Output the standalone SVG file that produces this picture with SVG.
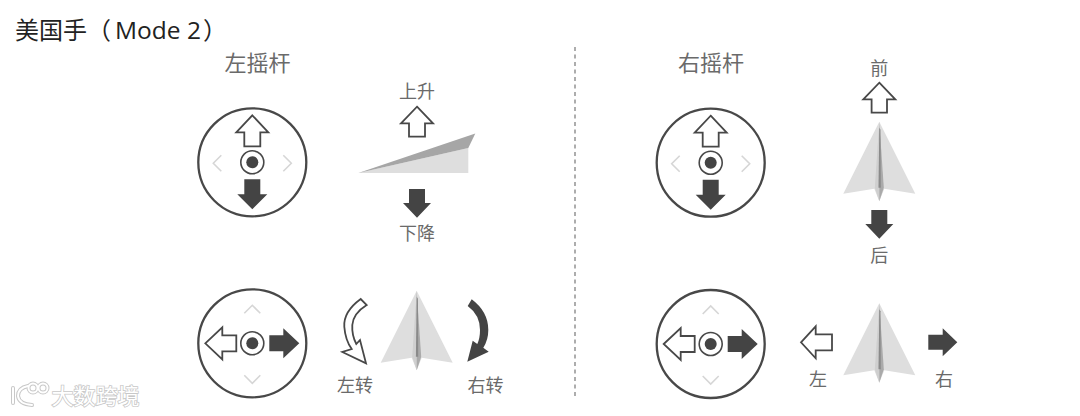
<svg xmlns="http://www.w3.org/2000/svg" xmlns:xlink="http://www.w3.org/1999/xlink" width="1080" height="416" viewBox="0 0 1080 416">
<style>
text{font-family:"Open Sans","Noto Sans CJK SC","Noto Sans",sans-serif;fill:#6a6a6a;text-anchor:middle}
.title{font-size:24px;fill:#222;text-anchor:start}
.h{font-size:22px}
.l{font-size:18px}
.ring{fill:#fff;stroke:#484848;stroke-width:2.3}
.inner{fill:none;stroke:#484848;stroke-width:1.6}
.dot{fill:#444}
.hollow{fill:#fff;stroke:#484848;stroke-width:1.8;stroke-linejoin:miter}
.solid{fill:#444}
.chev{fill:none;stroke:#d6d6d6;stroke-width:1.6}
.wm{font-size:22px;fill:#fff;stroke:#c8c8c8;stroke-width:1.6;paint-order:stroke}
.wml{fill:none;stroke:#c8c8c8;stroke-width:4;stroke-linecap:round}
.wmw{fill:none;stroke:#fff;stroke-width:2;stroke-linecap:round}
</style>
<defs>
<g id="hub">
<circle class="ring" r="54"/>
<circle class="inner" r="11.5"/>
<circle class="dot" r="6"/>
</g>
<g id="stickV">
<use xlink:href="#hub"/>
<path class="hollow" d="M0-47L16-30H8V-16H-8V-30H-16Z"/>
<path class="solid" d="M-8 17H8V32H15L0 47L-15 32H-8Z"/>
<path class="chev" d="M-31-7L-39 1L-31 9M31-7L39 1L31 9"/>
</g>
<g id="stickH">
<use xlink:href="#hub"/>
<path class="hollow" d="M-47 0L-30-16V-8H-16V8H-30V16Z"/>
<path class="solid" d="M17-8H31V-15L47 0L31 15V8H17Z"/>
<path class="chev" d="M-8-30L0-38L8-30M-8 32L0 40L8 32"/>
</g>
<g id="plane">
<path fill="#dedede" d="M0 0L36 72L5 67L0 79.5L-5 67L-36 72Z"/>
<path fill="#cfcfcf" d="M0 0L-4.500 66L0 79.5Z"/>
<path fill="#aaaaaa" d="M0 0L4.500 66L0 79.500Z"/>
<path fill="#8a8a8a" d="M0 6L1.200 8L1.500 66L-0.800 66Z"/>
</g>
</defs>
<g id="connectors">
<line x1="575" y1="47" x2="575" y2="398" stroke="#777" stroke-width="1.2" stroke-dasharray="4 3.500"/>
</g>
<g id="title"><text class="title" x="15" y="38.500">美国手<tspan x="87">（</tspan><tspan x="115" font-size="24.500">Mode 2</tspan><tspan x="203">）</tspan></text></g>
<g id="left-stick-head"><text class="h" x="257.500" y="71">左摇杆</text></g>
<g id="right-stick-head"><text class="h" x="711" y="71">右摇杆</text></g>
<g id="stick-left-throttle"><use xlink:href="#stickV" x="252.300" y="162.300"/></g>
<g id="stick-left-yaw"><use xlink:href="#stickH" x="252.300" y="343.300"/></g>
<g id="stick-right-pitch"><use xlink:href="#stickV" x="710.700" y="162.700"/></g>
<g id="stick-right-roll"><use xlink:href="#stickH" x="710.700" y="344"/></g>
<g id="throttle">
<text class="l" x="417" y="98">上升</text>
<path class="hollow" d="M417 106.700L433 123.300H425V136.700H409V123.300H401Z"/>
<path fill="#dedede" d="M358.300 173L468.300 148V173Z"/>
<path fill="#a6a6a6" d="M358.300 173L475.300 133.500L468.300 148Z"/>
<path class="solid" d="M409 189H425V203H431L417 217.700L403 203H409Z"/>
<text class="l" x="417" y="240">下降</text>
</g>
<g id="yaw">
<path class="hollow" d="M360.700 299Q343.300 311.700 344.300 326.700Q345.300 340 351.700 349L342.300 352L366 363.300L360 340L356.300 344Q351.700 335 352.300 325Q353.300 313.300 366.700 305Z"/>
<use xlink:href="#plane" x="416.700" y="290.700"/>
<path class="solid" d="M471.700 299.300Q488.300 311.700 488.300 330Q488.300 340 483.300 347.700L488.700 351.700L467.300 361.700L472.700 340.700L477.300 344Q480 338.300 480 330Q480 315 467.700 306Z"/>
<text class="l" x="355" y="392">左转</text>
<text class="l" x="485.500" y="392">右转</text>
</g>
<g id="pitch">
<text class="l" x="879.300" y="75">前</text>
<path class="hollow" d="M879.300 82.700L895.300 99.300H887V112.700H871.600V99.300H863.300Z"/>
<use xlink:href="#plane" x="879.300" y="121.700"/>
<path class="solid" d="M871.300 210H887.300V224H893.300L879.300 238.700L865.300 224H871.300Z"/>
<text class="l" x="879.300" y="262">后</text>
</g>
<g id="roll">
<path class="hollow" d="M801 342.300L815.700 326.300V334.300H832V350.300H815.700V358.300Z"/>
<use xlink:href="#plane" x="879.300" y="303.300"/>
<path class="solid" d="M928.300 334.800H942.700V328.300L957.300 342.300L942.700 356.300V349.800H928.300Z"/>
<text class="l" x="818" y="386">左</text>
<text class="l" x="944" y="386">右</text>
</g>
<g id="watermark">
<path class="wml" d="M13 388L13 403M28 386Q18 388 18 396Q19 404 32 405"/>
<circle class="wml" cx="33" cy="388" r="4.500"/><circle class="wml" cx="43" cy="388" r="4.500"/>
<path class="wmw" d="M13 388L13 403M28 386Q18 388 18 396Q19 404 32 405"/>
<circle class="wmw" cx="33" cy="388" r="4.500"/><circle class="wmw" cx="43" cy="388" r="4.500"/>
<text class="wm" x="95.500" y="404">大数跨境</text>
</g>
</svg>
